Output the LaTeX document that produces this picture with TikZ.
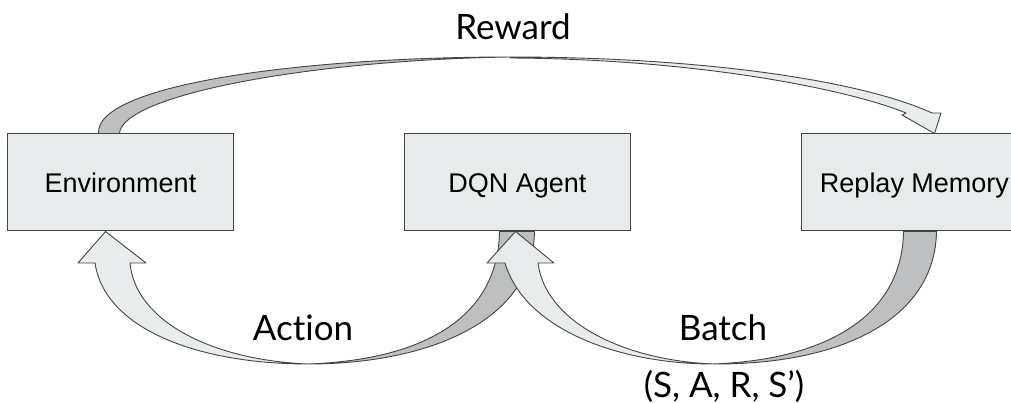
\documentclass[tikz,border=0pt]{standalone}
\usepackage{fontspec}
\setmainfont{Liberation Sans}
\newfontfamily\tagfont[Ligatures=NoCommon]{Lato}
\usetikzlibrary{positioning,calc}
\definecolor{boxfill}{HTML}{E8EBEC}
\definecolor{edge}{HTML}{444444}
\definecolor{front}{HTML}{E9ECEC}
\definecolor{back}{HTML}{BDBFC0}

\begin{document}
\begin{tikzpicture}[x=1pt,y=-1pt,
  node distance=170pt,
  block/.style={draw=edge,line width=1pt,fill=boxfill,minimum width=226pt,
    minimum height=97pt,inner sep=0pt,text height=21pt,text depth=0pt,
    font=\fontsize{27}{30}\selectfont},
  face/.style={draw=edge,line width=0.9pt,line join=round},
  tag/.style={anchor=base,inner sep=0pt,font=\tagfont\fontsize{35}{40}\selectfont}]
\useasboundingbox (0,0) rectangle (1011,403);
\node[block] (env) at (120.5,182.5) {Environment};
\node[block,right=of env] (dqn) {DQN Agent};
\node[block,right=of dqn] (rep) {Replay Memory};
% reward: back face leaves the environment, front face lands on the memory
\draw[face,fill=back] ([xshift=-22pt]env.north) .. controls (95,85) and (300,57) .. (510,57)
  .. controls (310,60) and (122,95) .. ([xshift=-1pt]env.north) -- cycle;
\draw[face,fill=front] (510,57) .. controls (700,57) and (860,80) .. (932,113) -- (941,113)
  -- ([xshift=20pt]rep.north) -- (902,115) -- (906,113)
  .. controls (850,90) and (700,59) .. (510,58) -- cycle;
% action: agent -> environment
\draw[face,fill=back] ([xshift=17pt]dqn.south) .. controls (533,320) and (430,364) .. (308,364)
  .. controls (420,360) and (498,320) .. ([xshift=-18pt]dqn.south) -- cycle;
\draw[face,fill=front] (130,263) -- (146,263) -- ([xshift=-15pt]env.south) -- (78,263) -- (95,263)
  .. controls (105,330) and (200,364) .. (308,364)
  .. controls (210,360) and (135,320) .. (130,263) -- cycle;
% batch: memory -> agent
\draw[face,fill=back] ([xshift=22pt]rep.south) .. controls (935,320) and (840,364) .. (717,364)
  -- (713,364) .. controls (820,360) and (902,320) .. ([xshift=-11pt]rep.south) -- cycle;
\draw[face,fill=front] (538,263) -- (554,263) -- ([xshift=-2pt]dqn.south) -- (487,263) -- (505,263)
  .. controls (525,330) and (620,364) .. (713,364)
  .. controls (620,360) and (545,320) .. (538,263) -- cycle;
\node[tag] (reward) at (513,40) {Reward};
\node[tag] (action) at (303,340) {Action};
\node[tag] (batch) at (723,340) {Batch};
\node[tag] (tuple) at (724,397) {(S, A, R, S’)};
\end{tikzpicture}
\end{document}
